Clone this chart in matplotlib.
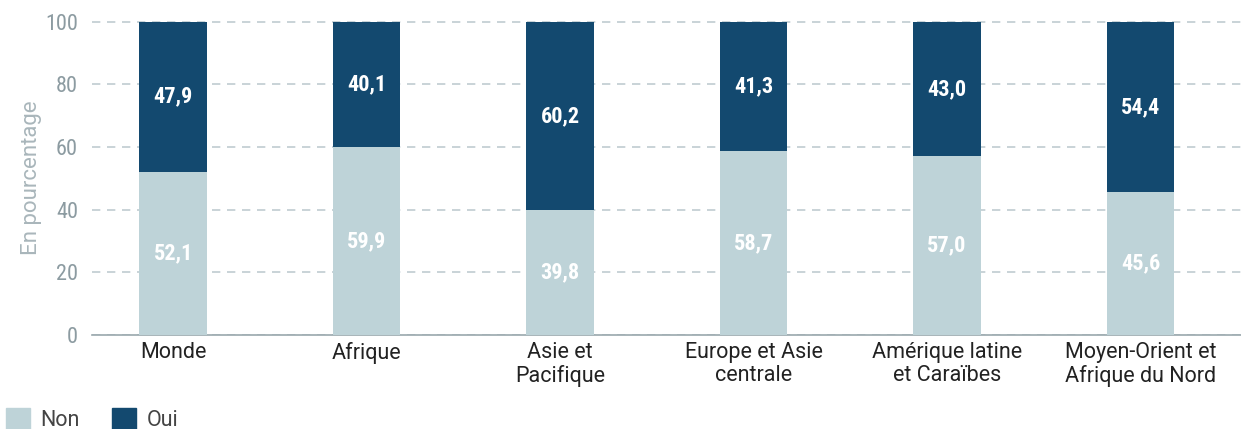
import matplotlib.pyplot as plt
from matplotlib.patches import Patch

regions = ['Monde', 'Afrique', 'Asie et\nPacifique', 'Europe et Asie\ncentrale',
           'Amérique latine\net Caraïbes', 'Moyen-Orient et\nAfrique du Nord']
non = [52.1, 59.9, 39.8, 58.7, 57.0, 45.6]
oui = [47.9, 40.1, 60.2, 41.3, 43.0, 54.4]
yticks = [0, 20, 40, 60, 80, 100]

light = '#bed3d8'
dark = '#13496f'
grey = '#8c9ba1'

plt.rcParams['font.family'] = ['Roboto Condensed', 'Roboto', 'DejaVu Sans']
regular = ['Roboto', 'DejaVu Sans']

fig = plt.figure(figsize=(12.41, 4.29), dpi=100)
ax = fig.add_axes([0.074, 0.219, 0.926, 0.734])

x = list(range(len(regions)))
w = 0.35
ax.bar(x, non, width=w, color=light, zorder=3)
ax.bar(x, oui, width=w, bottom=non, color=dark, zorder=3)

def fmt(v):
    return f'{v:.1f}'.replace('.', ',')

for i in x:
    ax.text(i, non[i] / 2, fmt(non[i]), ha='center', va='center', color='white',
            fontsize=16, fontweight='bold', zorder=4)
    ax.text(i, non[i] + oui[i] / 2, fmt(oui[i]), ha='center', va='center', color='white',
            fontsize=16, fontweight='bold', zorder=4)

ax.set_xlim(-0.42, 5.52)
ax.set_ylim(0, 100.5)
ax.set_yticks(yticks)
ax.set_yticklabels([str(t) for t in yticks], color=grey, fontsize=16)
ax.set_xticks(x)
ax.set_xticklabels(regions, fontsize=15.5, color='#222222', linespacing=1.1,
                   family=regular)
ax.tick_params(axis='y', length=0, pad=10)
ax.tick_params(axis='x', length=0, pad=5)

ax.grid(axis='y', color='#c0ccd1', linestyle=(0, (5, 4)), linewidth=1.2, zorder=0)
for s in ['top', 'right', 'left']:
    ax.spines[s].set_visible(False)
ax.spines['bottom'].set_color('#9aa8ad')
ax.spines['bottom'].set_linewidth(1.2)

ax.set_ylabel('En pourcentage', color='#a9b6bb', fontsize=16,
              family=regular, labelpad=2)

handles = [Patch(color=light, label='Non'), Patch(color=dark, label='Oui')]
fig.legend(handles=handles, loc='lower left', bbox_to_anchor=(-0.002, -0.025), ncol=2,
           frameon=False, prop={'family': regular, 'size': 15.5},
           handlelength=1.1, handleheight=1.2, handletextpad=0.5, columnspacing=1.5,
           borderpad=0.2, borderaxespad=0.2, labelcolor='#444444')

fig.savefig('out.png', dpi=100)
